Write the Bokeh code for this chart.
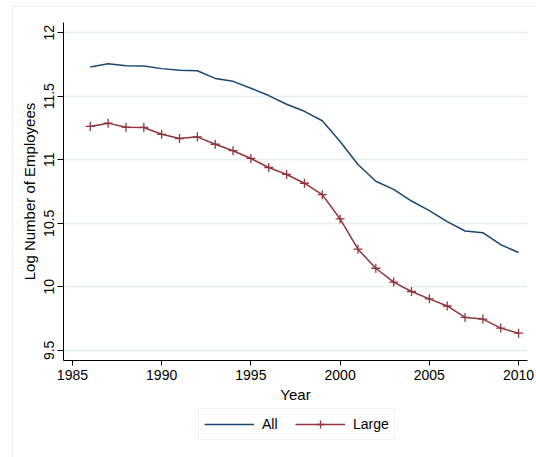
from bokeh.plotting import figure
from bokeh.layouts import column
from bokeh.models import Legend, LegendItem, FixedTicker, Range1d, ColumnDataSource
from bokeh.embed import file_html
from bokeh.resources import INLINE

# Log number of employees by year, all firms vs. large firms
years = list(range(1986, 2011))
all_emp = [11.73, 11.756, 11.74, 11.738, 11.717, 11.704, 11.70, 11.64, 11.617, 11.563,
           11.505, 11.437, 11.381, 11.307, 11.143, 10.963, 10.831, 10.767, 10.675, 10.60,
           10.513, 10.439, 10.426, 10.331, 10.27]
large_emp = [11.262, 11.288, 11.256, 11.254, 11.20, 11.167, 11.18, 11.122, 11.071, 11.01,
             10.939, 10.884, 10.815, 10.725, 10.534, 10.296, 10.146, 10.037, 9.963, 9.905,
             9.849, 9.759, 9.746, 9.675, 9.635]
x_ticks = [1985, 1990, 1995, 2000, 2005, 2010]
y_ticks = [9.5, 10, 10.5, 11, 11.5, 12]

NAVY = "#1a476f"
MAROON = "#90353b"
FONT = "Liberation Sans"
LINE_W = 1.5
CROSS_SIZE = 9

source = ColumnDataSource(data=dict(year=years, all=all_emp, large=large_emp))

p = figure(width=523, height=400, output_backend="svg", toolbar_location=None,
           x_range=Range1d(1984.5, 2010.5), y_range=Range1d(9.42, 12.08),
           min_border_left=50, min_border_right=9, min_border_top=15, min_border_bottom=47)
p.background_fill_color = "white"
p.border_fill_color = "white"
p.outline_line_color = None

# axes
for ax in (p.xaxis[0], p.yaxis[0]):
    ax.axis_line_color = "black"
    ax.axis_line_width = 1
    ax.major_tick_line_color = "black"
    ax.major_tick_in = 0
    ax.major_tick_out = 5
    ax.minor_tick_line_color = None
    ax.major_label_text_font = FONT
    ax.major_label_text_font_size = "14px"
    ax.major_label_text_color = "black"
    ax.axis_label_text_font = FONT
    ax.axis_label_text_font_size = "15px"
    ax.axis_label_text_font_style = "normal"
    ax.axis_label_text_color = "black"

p.xaxis.ticker = FixedTicker(ticks=x_ticks)
p.yaxis.ticker = FixedTicker(ticks=y_ticks)
p.yaxis.major_tick_out = 6
p.yaxis.major_label_orientation = "vertical"
p.yaxis.major_label_overrides = {9.5: "9.5", 10: "10", 10.5: "10.5", 11: "11", 11.5: "11.5", 12: "12"}
p.xaxis.axis_label = "Year"
p.yaxis.axis_label = "Log Number of Employees"
p.xaxis.major_label_standoff = 4
p.xaxis.axis_label_standoff = 3
p.yaxis.major_label_standoff = 3
p.yaxis.axis_label_standoff = 4

# grid
p.xgrid.grid_line_color = None
p.ygrid.grid_line_color = "#e6eef0"
p.ygrid.grid_line_width = 1.5

# series
p.line("year", "all", source=source, line_color=NAVY, line_width=LINE_W)
p.line("year", "large", source=source, line_color=MAROON, line_width=LINE_W)
p.scatter("year", "large", source=source, marker="cross", size=CROSS_SIZE,
          line_color=MAROON, line_width=1.3)

# key shown in its own strip under the chart; its ranges keep the series out of view,
# so only the legend swatches appear
key = figure(width=260, height=32, output_backend="svg", toolbar_location=None,
             x_range=Range1d(0, 1), y_range=Range1d(0, 1),
             x_axis_type=None, y_axis_type=None, min_border=0)
key.margin = (1, 0, 0, 135)
key.outline_line_color = None
key.grid.grid_line_color = None
key.background_fill_color = "white"
key.border_fill_color = "white"
k_all = key.line("year", "all", source=source, line_color=NAVY, line_width=LINE_W)
k_large = key.line("year", "large", source=source, line_color=MAROON, line_width=LINE_W)
k_large_pts = key.scatter("year", "large", source=source, marker="cross", size=CROSS_SIZE,
                          line_color=MAROON, line_width=1.3)
legend = Legend(items=[LegendItem(label="All", renderers=[k_all]),
                       LegendItem(label="Large", renderers=[k_large, k_large_pts])],
                location="top_left", orientation="horizontal",
                glyph_width=50, glyph_height=20, label_standoff=8, spacing=13,
                padding=5, margin=0,
                label_text_font=FONT, label_text_font_size="14px", label_text_color="black",
                border_line_color="#e3eaec", border_line_width=1,
                background_fill_color="white", background_fill_alpha=1)
key.add_layout(legend, "center")

page = column(p, key, spacing=0)
page.margin = (6, 0, 0, 12)
page.styles = {"border-left": "1px solid #e8eef0", "border-top": "1px solid #e8eef0",
               "height": "451px"}

open("out.html", "w").write(file_html(page, INLINE))
